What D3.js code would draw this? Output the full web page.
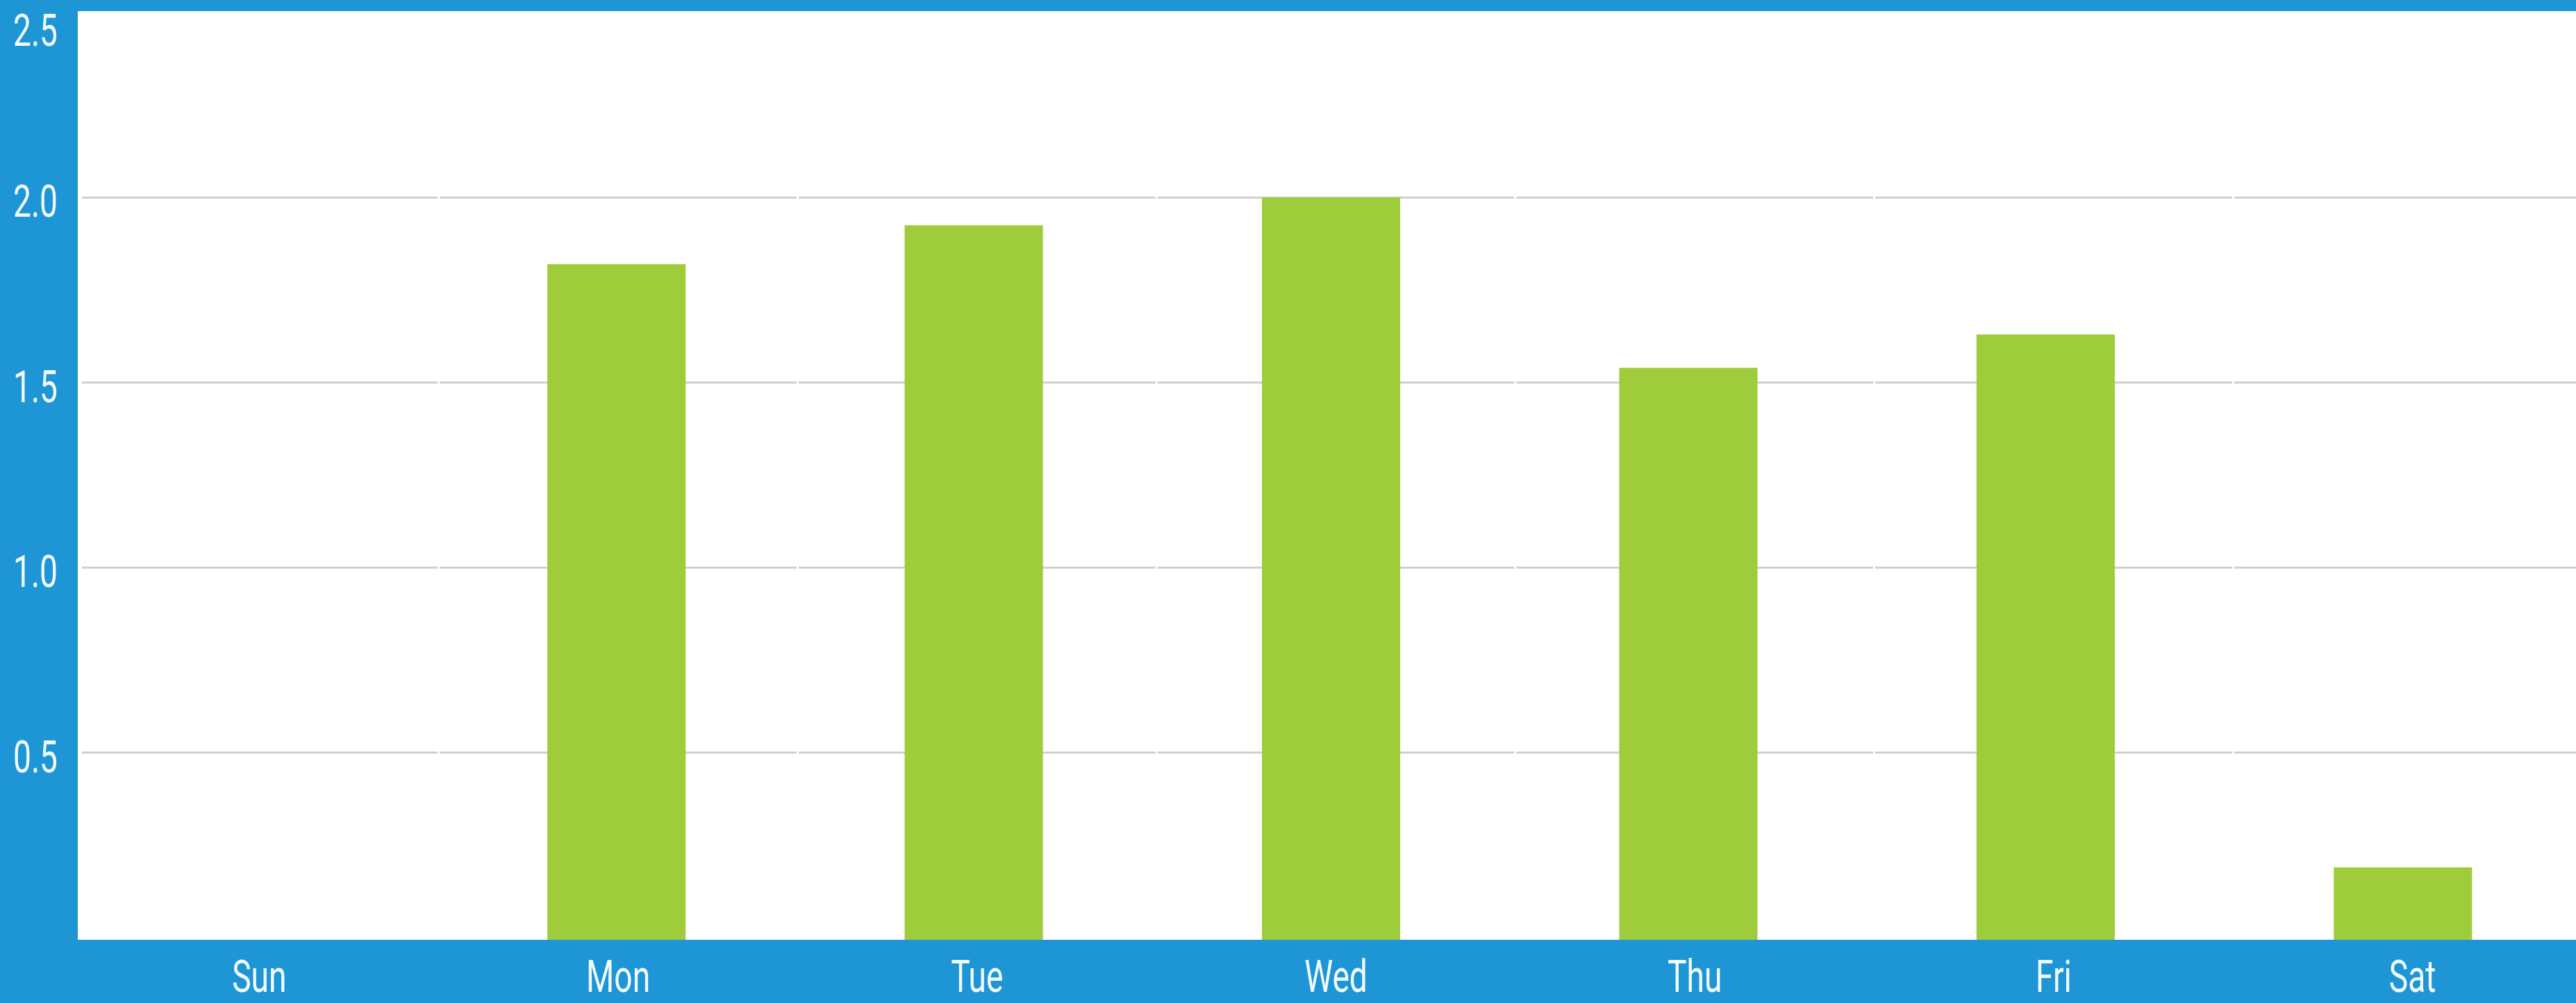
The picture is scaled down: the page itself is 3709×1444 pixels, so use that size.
<!DOCTYPE html>
<html>
<head>
<meta charset="utf-8">
<script src="https://cdn.jsdelivr.net/npm/d3@7/dist/d3.min.js"></script>
<style>
  html, body { margin: 0; padding: 0; background: #1e96d6; overflow: hidden; }
  svg { display: block; }
  text { font-family: Roboto, "Liberation Sans", sans-serif; font-weight: 400; fill: #f2fbff; }
</style>
</head>
<body>
<svg id="chart"></svg>
<script>
const days = ["Sun", "Mon", "Tue", "Wed", "Thu", "Fri", "Sat"];
const values = [0, 1.82, 1.925, 2.0, 1.54, 1.63, 0.19];
const yTicks = [0.5, 1.0, 1.5, 2.0, 2.5];
const gridTicks = [0.5, 1.0, 1.5, 2.0];

const W = 3709, H = 1444;
const plot = { left: 112, top: 16, right: 3709, bottom: 1353 };
const fontSize = 65, sx = 0.71, capH = 46;

const svg = d3.select("#chart").attr("width", W).attr("height", H);

svg.append("rect").attr("x", 0).attr("y", 0).attr("width", W).attr("height", H).attr("fill", "#1e96d6");
svg.append("rect")
  .attr("x", plot.left).attr("y", plot.top)
  .attr("width", plot.right - plot.left).attr("height", plot.bottom - plot.top)
  .attr("fill", "#ffffff");

const y = d3.scaleLinear().domain([0, 2.5]).range([1350, 18]);
const xAxis = d3.scaleBand().domain(days).range([115, 3732]);
const xBar = d3.scaleBand().domain(days).range([116, 3717]).paddingInner(0.613).paddingOuter(0.3065);

// gridlines, broken at each band boundary
const grid = svg.append("g");
gridTicks.forEach(t => {
  days.forEach((d, i) => {
    const x0 = Math.max(xAxis(d) + 1.5, 118);
    const x1 = Math.min(xAxis(d) + xAxis.bandwidth() - 1.5, plot.right);
    grid.append("line")
      .attr("x1", x0).attr("x2", x1)
      .attr("y1", y(t)).attr("y2", y(t))
      .attr("stroke", "#cfcfcf").attr("stroke-width", 3);
  });
});

// bars
svg.append("g").selectAll("rect").data(days.map((d, i) => ({ d, v: values[i] })))
  .join("rect")
  .attr("x", o => xBar(o.d))
  .attr("width", xBar.bandwidth())
  .attr("y", o => y(o.v))
  .attr("height", o => plot.bottom - y(o.v))
  .attr("fill", "#9ecc3b")
  .style("display", o => o.v > 0 ? null : "none");

// y labels
svg.append("g").selectAll("text").data(yTicks).join("text")
  .attr("transform", t => {
    const base = Math.max(y(t) + 28, plot.top + 4 + capH);
    return `translate(83,${base}) scale(${sx},1)`;
  })
  .attr("text-anchor", "end")
  .attr("font-size", fontSize)
  .text(t => d3.format(".1f")(t));

// x labels
svg.append("g").selectAll("text").data(days).join("text")
  .attr("transform", d => `translate(${xAxis(d) + xAxis.bandwidth() / 2},1428) scale(${sx},1)`)
  .attr("text-anchor", "middle")
  .attr("font-size", fontSize)
  .text(d => d);
</script>
</body>
</html>
